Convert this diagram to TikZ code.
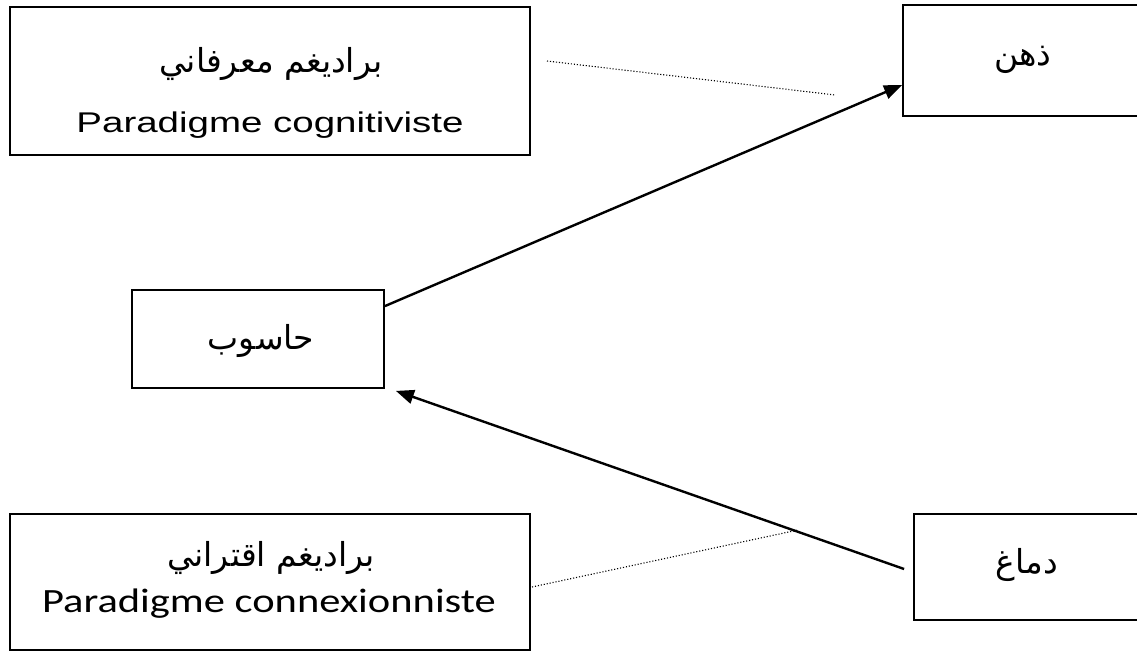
\documentclass[tikz,border=0pt]{standalone}
\usepackage{fontspec}
\usetikzlibrary{arrows.meta}
\TeXXeTstate=1
\newfontfamily\arabicfont[Script=Arabic]{DejaVu Sans}
\newfontfamily\sansA[FakeStretch=1.35]{Liberation Sans}
\newfontfamily\sansB[FakeStretch=1.25]{Carlito}

\begin{document}
\begin{tikzpicture}[x=1pt,y=-1pt,
  box/.style={draw,line width=1.8pt,inner sep=0pt,rectangle},
  arab/.style={anchor=base,inner sep=0pt,font=\arabicfont\fontsize{33}{35}\selectfont},
  latA/.style={anchor=base,inner sep=0pt,font=\sansA\fontsize{28.5}{30}\selectfont},
  latB/.style={anchor=base,inner sep=0pt,font=\sansB\fontsize{34}{36}\selectfont},
  link/.style={line width=2.4pt,-{Triangle[length=18pt,width=14pt]}},
  hint/.style={line width=1.1pt,dash pattern=on 1.1pt off 1.9pt}]
\useasboundingbox (0,0) rectangle (1137,652);
\fill[white] (0,0) rectangle (1137,652);

% boxes
\node[box,minimum width=520pt,minimum height=148pt] (A) at (270,81) {};
\node[box,minimum width=240pt,minimum height=111pt] (B) at (1023,60.5) {};
\node[box,minimum width=252pt,minimum height=98pt]  (C) at (258,339) {};
\node[box,minimum width=520pt,minimum height=136pt] (D) at (270,582) {};
\node[box,minimum width=226pt,minimum height=106pt] (E) at (1027,567) {};

% labels
\node[arab] (A-ar) at (271,73)  {\beginR براديغم معرفاني\endR};
\node[latA] (A-fr) at (270,133) {Paradigme cognitiviste};
\node[arab] (B-t)  at (1023,66) {\beginR ذهن\endR};
\node[arab] (C-t)  at (261,349) {\beginR حاسوب\endR};
\node[arab] (D-ar) at (271,566) {\beginR براديغم اقتراني\endR};
\node[latB] (D-fr) at (269,612) {Paradigme connexionniste};
\node[arab] (E-t)  at (1027,573) {\beginR دماغ\endR};

% arrows
\draw[link] ([yshift=-17pt]C.north east) -- ([yshift=-24.5pt]B.west);
\draw[link] ([xshift=-9pt,yshift=-2pt]E.west) -- ([xshift=11pt,yshift=-2pt]C.south east);

% dotted hints
\coordinate (h1a) at (547,61);
\coordinate (h1b) at (835,95);
\coordinate (h2a) at (532,587);
\coordinate (h2b) at (798,530);
\draw[hint] (h1a) -- (h1b);
\draw[hint] (h2a) -- (h2b);
\end{tikzpicture}
\end{document}
